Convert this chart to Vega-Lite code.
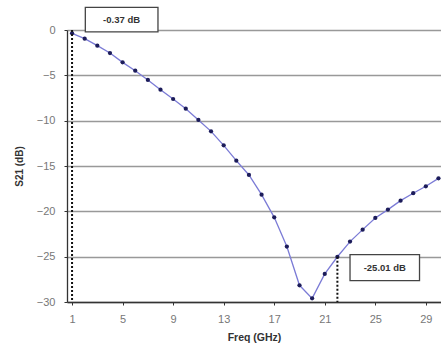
{
  "$schema": "https://vega.github.io/schema/vega-lite/v6.json",
  "width": 374,
  "height": 272,
  "autosize": {"type": "none"},
  "padding": {"left": 67, "top": 30, "right": 0, "bottom": 54},
  "background": "white",
  "config": {
    "view": {"stroke": null},
    "font": "Liberation Sans"
  },
  "datasets": {
    "s21": [
      {"f": 1, "db": -0.37}, {"f": 2, "db": -0.96}, {"f": 3, "db": -1.73}, {"f": 4, "db": -2.54},
      {"f": 5, "db": -3.57}, {"f": 6, "db": -4.49}, {"f": 7, "db": -5.51}, {"f": 8, "db": -6.58},
      {"f": 9, "db": -7.61}, {"f": 10, "db": -8.68}, {"f": 11, "db": -9.92}, {"f": 12, "db": -11.18},
      {"f": 13, "db": -12.72}, {"f": 14, "db": -14.41}, {"f": 15, "db": -15.99}, {"f": 16, "db": -18.16},
      {"f": 17, "db": -20.66}, {"f": 18, "db": -23.89}, {"f": 19, "db": -28.16}, {"f": 20, "db": -29.6},
      {"f": 21, "db": -26.9}, {"f": 22, "db": -25.01}, {"f": 23, "db": -23.34}, {"f": 24, "db": -22.02},
      {"f": 25, "db": -20.73}, {"f": 26, "db": -19.81}, {"f": 27, "db": -18.82}, {"f": 28, "db": -18.0},
      {"f": 29, "db": -17.24}, {"f": 30, "db": -16.36}
    ],
    "markers": [
      {"f": 1, "top": 0, "bottom": -30},
      {"f": 22, "top": -25.01, "bottom": -30}
    ],
    "boxes": [
      {"x1": 2.05, "x2": 7.8, "y1": 2.5, "y2": -0.2, "xc": 4.92, "yc": 1.15, "label": "-0.37 dB"},
      {"x1": 23.0, "x2": 28.5, "y1": -24.77, "y2": -27.64, "xc": 25.75, "yc": -26.2, "label": "-25.01 dB"}
    ]
  },
  "layer": [
    {
      "data": {"name": "s21"},
      "mark": {"type": "line", "color": "#7b7bd6", "strokeWidth": 1.3, "clip": true},
      "encoding": {
        "x": {
          "field": "f", "type": "quantitative",
          "scale": {"domain": [0.6, 30.2], "nice": false, "zero": false},
          "axis": {
            "title": "Freq (GHz)",
            "values": [1,2,3,4,5,6,7,8,9,10,11,12,13,14,15,16,17,18,19,20,21,22,23,24,25,26,27,28,29,30],
            "labelExpr": "(datum.value - 1) % 4 == 0 ? datum.label : ''",
            "grid": false,
            "domainColor": "#333",
            "domainWidth": 1.3,
            "tickColor": "#333",
            "tickSize": 3,
            "labelColor": "#777",
            "labelFontSize": 11,
            "labelPadding": 8,
            "labelFlush": false,
            "titleFontSize": 10.5,
            "titleFontWeight": "bold",
            "titleColor": "#333",
            "titlePadding": 8
          }
        },
        "y": {
          "field": "db", "type": "quantitative",
          "scale": {"domain": [-30, 0], "nice": false},
          "axis": {
            "title": "S21 (dB)",
            "values": [0, -5, -10, -15, -20, -25, -30],
            "grid": true,
            "gridColor": "#999",
            "gridWidth": 1.3,
            "domainColor": "#333",
            "domainWidth": 1.3,
            "tickColor": "#333",
            "tickSize": 3,
            "labelColor": "#777",
            "labelFontSize": 11,
            "labelPadding": 9,
            "titleFontSize": 10,
            "titleFontWeight": "bold",
            "titleColor": "#333",
            "titlePadding": 12
          }
        }
      }
    },
    {
      "data": {"name": "s21"},
      "mark": {"type": "point", "filled": true, "color": "#1c1c5a", "size": 18, "opacity": 1},
      "encoding": {
        "x": {"field": "f", "type": "quantitative"},
        "y": {"field": "db", "type": "quantitative"}
      }
    },
    {
      "data": {"name": "markers"},
      "mark": {"type": "rule", "color": "#111", "strokeWidth": 2, "strokeDash": [2, 2]},
      "encoding": {
        "x": {"field": "f", "type": "quantitative"},
        "y": {"field": "top", "type": "quantitative"},
        "y2": {"field": "bottom"}
      }
    },
    {
      "data": {"name": "boxes"},
      "mark": {"type": "rect", "fill": "white", "stroke": "#444", "strokeWidth": 1.3, "clip": false},
      "encoding": {
        "x": {"field": "x1", "type": "quantitative"},
        "x2": {"field": "x2"},
        "y": {"field": "y1", "type": "quantitative"},
        "y2": {"field": "y2"}
      }
    },
    {
      "data": {"name": "boxes"},
      "mark": {"type": "text", "fontSize": 9.5, "fontWeight": "bold", "color": "#333", "align": "center", "baseline": "middle"},
      "encoding": {
        "x": {"field": "xc", "type": "quantitative"},
        "y": {"field": "yc", "type": "quantitative"},
        "text": {"field": "label"}
      }
    }
  ]
}
